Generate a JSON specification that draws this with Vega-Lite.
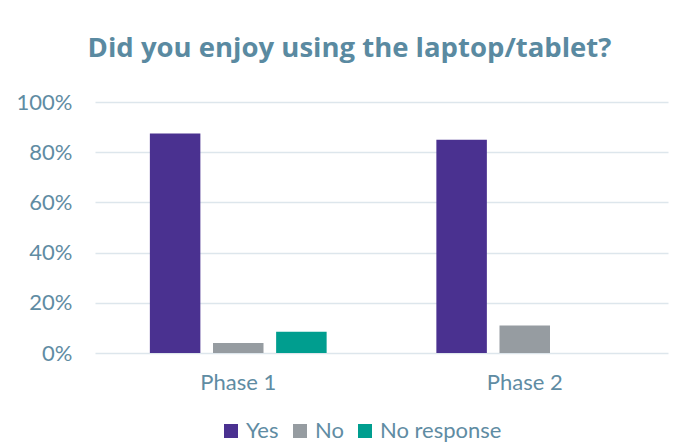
{
  "$schema": "https://vega.github.io/schema/vega-lite/v6.json",
  "width": 573,
  "height": 251,
  "autosize": "none",
  "padding": {"left": 95, "top": 102, "right": 12, "bottom": 94},
  "background": "white",
  "title": {
    "text": "Did you enjoy using the laptop/tablet?",
    "font": "Open Sans",
    "fontSize": 27.5,
    "fontWeight": "bold",
    "color": "#5a8aa1",
    "anchor": "middle",
    "dx": -32,
    "offset": 29
  },
  "data": {
    "values": [
      {"phase": "Phase 1", "answer": "Yes", "value": 0.875},
      {"phase": "Phase 1", "answer": "No", "value": 0.04},
      {"phase": "Phase 1", "answer": "No response", "value": 0.085},
      {"phase": "Phase 2", "answer": "Yes", "value": 0.85},
      {"phase": "Phase 2", "answer": "No", "value": 0.11},
      {"phase": "Phase 2", "answer": "No response", "value": 0}
    ]
  },
  "mark": {"type": "bar"},
  "encoding": {
    "x": {
      "field": "phase",
      "type": "nominal",
      "scale": {"paddingInner": 0.383, "paddingOuter": 0.1915},
      "axis": {
        "title": null,
        "labelAngle": 0,
        "domain": false,
        "ticks": false,
        "labelPadding": 19,
        "labelFont": "Lato",
        "labelFontSize": 22,
        "labelColor": "#5f8ca3"
      }
    },
    "xOffset": {
      "field": "answer",
      "type": "nominal",
      "sort": ["Yes", "No", "No response"],
      "scale": {"paddingInner": 0.2, "paddingOuter": 0}
    },
    "y": {
      "field": "value",
      "type": "quantitative",
      "scale": {"domain": [0, 1]},
      "axis": {
        "title": null,
        "format": ".0%",
        "values": [0, 0.2, 0.4, 0.6, 0.8, 1],
        "labelOverlap": false,
        "domain": false,
        "ticks": false,
        "labelPadding": 23,
        "labelFont": "Lato",
        "labelFontSize": 22,
        "labelColor": "#5f8ca3",
        "gridColor": "#dde6ec",
        "gridWidth": 1.5
      }
    },
    "color": {
      "field": "answer",
      "type": "nominal",
      "sort": ["Yes", "No", "No response"],
      "scale": {
        "domain": ["Yes", "No", "No response"],
        "range": ["#4a3190", "#969ca1", "#009e8f"]
      },
      "legend": {
        "title": null,
        "orient": "none",
        "legendX": 125,
        "legendY": 318,
        "direction": "horizontal",
        "symbolType": "square",
        "symbolSize": 196,
        "symbolStrokeWidth": 0,
        "labelFont": "Lato",
        "labelFontSize": 22,
        "labelColor": "#5f8ca3",
        "labelOffset": 4,
        "columnPadding": 10
      }
    }
  },
  "config": {
    "view": {"stroke": null}
  }
}
